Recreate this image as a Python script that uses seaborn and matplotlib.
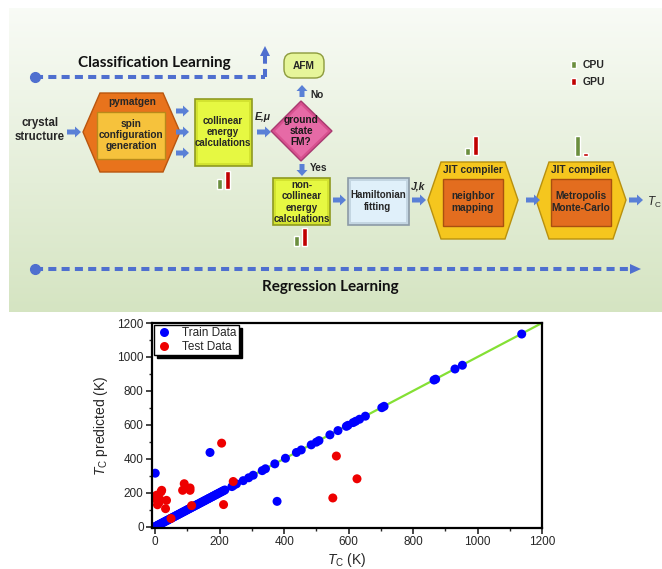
import numpy as np
import pandas as pd
import matplotlib
matplotlib.use("Agg")
import matplotlib.pyplot as plt
import seaborn as sns
from matplotlib.patches import Polygon, Rectangle, FancyArrow, FancyBboxPatch

# ----------------------------------------------------------------------
# data
# ----------------------------------------------------------------------
train_true = [0, 3, 5, 8, 11, 14, 17, 20, 24, 27, 30, 34, 37, 40, 44, 47, 51, 54,
              58, 61, 65, 68, 72, 75, 79, 82, 86, 90, 93, 97, 100, 104, 108, 111,
              115, 119, 122, 126, 130, 133, 137, 141, 144, 148, 152, 155, 159, 163,
              166, 170, 174, 178, 181, 185, 189, 192, 196, 200, 204, 208, 212, 216,
              238, 243, 252, 273, 290, 304, 332, 342, 371, 404, 438, 453, 484, 500,
              508, 542, 567, 593, 598, 614, 622, 634, 652, 703, 710, 865, 870, 930,
              953, 1137, 0, 170, 378]
train_pred = [0, 3, 5, 8, 11, 14, 17, 20, 24, 27, 30, 34, 37, 40, 44, 47, 51, 54,
              58, 61, 65, 68, 72, 75, 79, 82, 86, 90, 93, 97, 100, 104, 108, 111,
              115, 119, 122, 126, 130, 133, 137, 141, 144, 148, 152, 155, 159, 163,
              166, 170, 174, 178, 181, 185, 189, 192, 196, 200, 204, 208, 212, 216,
              236, 243, 252, 271, 288, 303, 330, 341, 370, 403, 437, 452, 482, 498,
              507, 541, 566, 591, 597, 613, 621, 633, 651, 701, 709, 864, 869, 929,
              951, 1135, 315, 437, 149]

test_true = [0, 1, 4, 7, 10, 12, 15, 18, 20, 32, 35, 49, 85, 90, 108, 108, 113,
             206, 212, 242, 551, 562, 626]
test_pred = [165, 175, 185, 129, 140, 145, 159, 205, 214, 106, 155, 48, 214, 253,
             228, 214, 124, 492, 130, 266, 169, 416, 282]

# CPU / GPU timing bars per stage (bar heights, px in the figure)
stages = ["collinear", "noncollinear", "neighbor", "montecarlo"]
cpu_time = [10, 10, 7, 20]
gpu_time = [18, 18, 19, 3]

# ----------------------------------------------------------------------
# figure
# ----------------------------------------------------------------------
sns.set_style("white")
plt.rcParams["font.family"] = ["Liberation Sans", "DejaVu Sans"]
plt.rcParams["mathtext.fontset"] = "custom"
plt.rcParams["mathtext.rm"] = "Liberation Sans"
plt.rcParams["mathtext.it"] = "Liberation Sans:italic"
plt.rcParams["mathtext.bf"] = "Liberation Sans:bold"

fig = plt.figure(figsize=(6.62, 5.69), dpi=100)

# diagram canvas in pixel coordinates
d = fig.add_axes([0, 0, 1, 1], zorder=0)
d.set_xlim(0, 662)
d.set_ylim(569, 0)
d.axis("off")

grad = np.linspace(0, 1, 200)[:, None]
c_top = np.array([0.975, 0.985, 0.965])
c_bot = np.array([0.835, 0.895, 0.760])
img = (c_top + (c_bot - c_top) * grad)[:, None, :].repeat(2, axis=1)
d.imshow(img, extent=(9, 662, 312, 8), aspect="auto", zorder=0)

BLUE = "#5a80d6"
DASH = "#4f6fcf"


def arrow(x, y, dx, dy):
    d.add_patch(FancyArrow(x, y, dx, dy, width=5, head_width=11, head_length=6,
                           length_includes_head=True, color=BLUE, lw=0, zorder=3))


def label(x, y, s, size=7.3, **kw):
    d.text(x, y, s, ha="center", va="center", fontsize=size, fontweight="bold",
           linespacing=1.15, zorder=5, **kw)


def bevel_rect(x, y, w, h, fc, ec, light, z=3):
    # flat box with a lighter inner face to hint at the bevel
    d.add_patch(Rectangle((x, y), w, h, fc=fc, ec=ec, lw=1.2, zorder=z))
    d.add_patch(Rectangle((x + 3, y + 3), w - 6, h - 6, fc=light, ec="none", zorder=z))


# learning tracks
d.plot([35, 265], [77, 77], ls=(0, (2, 1.3)), lw=2.9, color=DASH, zorder=2)
d.plot([35], [77], "o", ms=7, color=DASH, zorder=2)
d.plot([265, 265], [77, 56], ls=(0, (2, 1.3)), lw=2.9, color=DASH, zorder=2)
d.add_patch(FancyArrow(265, 58, 0, -12, width=0.1, head_width=10, head_length=10,
                       length_includes_head=True, color=DASH, lw=0, zorder=2))
d.text(154, 63, "Classification Learning", ha="center", va="center",
       fontsize=11, fontweight="bold", family=["Lato", "DejaVu Sans"],
       color="#111111")

d.plot([35, 630], [269, 269], ls=(0, (2, 1.3)), lw=2.9, color=DASH, zorder=2)
d.plot([35], [269], "o", ms=7, color=DASH, zorder=2)
d.add_patch(FancyArrow(628, 269, 13, 0, width=0.1, head_width=10, head_length=11,
                       length_includes_head=True, color=DASH, lw=0, zorder=2))
d.text(330, 287, "Regression Learning", ha="center", va="center",
       fontsize=11, fontweight="bold", family=["Lato", "DejaVu Sans"],
       color="#111111")

# crystal structure -> pymatgen
label(40, 130, "crystal\nstructure", size=8.3)
arrow(67, 132, 14, 0)
d.add_patch(Polygon([(100, 93), (163, 93), (180, 132), (163, 172), (100, 172), (83, 132)],
                    closed=True, fc="#e8731c", ec="#b9560f", lw=1, zorder=3))
d.add_patch(Rectangle((97, 112), 68, 47, fc="#f6c23c", ec="#b98a1a", lw=1, zorder=4))
label(132, 102, "pymatgen")
label(131, 135, "spin\nconfiguration\ngeneration")

for yy in (111, 132, 153):
    arrow(176, yy, 13, 0)

# collinear box
bevel_rect(195, 99, 57, 67, "#d3e330", "#8f9a20", "#e6f842")
label(223, 132, "collinear\nenergy\ncalculations", size=7)
label(263, 117, "E,μ", size=7.5, style="italic")
arrow(257, 132, 14, 0)

# decision diamond
d.add_patch(Polygon([(301, 101), (332, 131), (301, 161), (271, 131)], closed=True,
                    fc="#d8508f", ec="#a83a70", lw=1, zorder=3))
d.add_patch(Polygon([(301, 105), (328, 131), (301, 157), (275, 131)], closed=True,
                    fc="#e66aa6", ec="none", zorder=3))
label(301, 131, "ground\nstate\nFM?", size=7.3, color="#1a1a1a")
arrow(302, 97, 0, -12)
label(317, 95, "No")
arrow(302, 164, 0, 12)
label(319, 168, "Yes")

d.add_patch(FancyBboxPatch((284, 53), 40, 25, boxstyle="round,pad=0,rounding_size=9",
                           fc="#e6f59a", ec="#8c9a3c", lw=1, zorder=3))
label(304, 66, "AFM")

# non-collinear box
bevel_rect(273, 178, 57, 47, "#d3e330", "#8f9a20", "#e6f842")
label(302, 202, "non-\ncollinear\nenergy\ncalculations", size=7)
arrow(333, 200, 13, 0)

# Hamiltonian box
bevel_rect(348, 178, 61, 47, "#c4d6e2", "#8c9aa6", "#e0f0fa")
label(378, 201, "Hamiltonian\nfitting", size=7)
label(418, 186, "J,k", size=7.5, style="italic")
arrow(412, 200, 14, 0)

# JIT compiler hexagons
for x0, txt in ((428, "neighbor\nmapping"), (536, "Metropolis\nMonte-Carlo")):
    w = 90
    d.add_patch(Polygon([(x0 + 13, 162), (x0 + w - 13, 162), (x0 + w, 200),
                         (x0 + w - 13, 239), (x0 + 13, 239), (x0, 200)], closed=True,
                        fc="#f5c61e", ec="#b8900e", lw=1, zorder=3))
    d.add_patch(Rectangle((x0 + 15, 179), w - 30, 47, fc="#e36d1f", ec="#a9500f",
                          lw=1, zorder=4))
    label(x0 + w / 2, 170, "JIT compiler")
    label(x0 + w / 2, 202, txt)
arrow(526, 200, 14, 0)
arrow(629, 200, 14, 0)
d.text(654, 202, r"$T_\mathrm{C}$", ha="center", va="center", fontsize=8.5,
       fontweight="bold", zorder=5)

# CPU / GPU bars
GREEN_BAR = "#6b8e3e"
RED_BAR = "#c00000"
bar_base = [189, 246, 155, 156]
bar_x = [217, 294, 465, 575]
d.bar([x + 2.5 for x in bar_x], cpu_time, width=5,
      bottom=[b - h for b, h in zip(bar_base, cpu_time)], color=GREEN_BAR, zorder=3)
d.bar([x + 10.5 for x in bar_x], gpu_time, width=5,
      bottom=[b - h for b, h in zip(bar_base, gpu_time)], color=RED_BAR, zorder=3)
d.add_patch(Rectangle((571, 61), 5, 7, fc=GREEN_BAR, zorder=3))
d.add_patch(Rectangle((571, 78), 5, 7, fc=RED_BAR, zorder=3))
d.text(583, 65, "CPU", ha="left", va="center", fontsize=7.5, fontweight="bold")
d.text(583, 82, "GPU", ha="left", va="center", fontsize=7.5, fontweight="bold")

# ----------------------------------------------------------------------
# parity plot
# ----------------------------------------------------------------------
df = pd.DataFrame({
    "true": train_true + test_true,
    "pred": train_pred + test_pred,
    "set": ["Train Data"] * len(train_true) + ["Test Data"] * len(test_true),
})

ax = fig.add_axes([152 / 662, 1 - 528 / 569, 390 / 662, 205 / 569], zorder=2)
ax.set_facecolor("white")
sns.lineplot(x=[0, 1200], y=[0, 1200], color="#84e034", lw=1.6, ax=ax, zorder=1)
sns.scatterplot(data=df, x="true", y="pred", hue="set",
                palette={"Train Data": "#0000ff", "Test Data": "#ee0000"},
                s=42, linewidth=0, ax=ax, zorder=2)

ax.set_xlim(-10, 1200)
ax.set_ylim(-8, 1200)
ax.set_xticks(range(0, 1201, 200))
ax.set_yticks(range(0, 1201, 200))
ax.set_xticks(range(100, 1200, 200), minor=True)
ax.set_yticks(range(100, 1200, 200), minor=True)
ax.tick_params(which="major", direction="out", length=4, width=1.2, labelsize=8.5,
               bottom=True, left=True, pad=2)
ax.tick_params(which="minor", direction="out", length=2.5, width=1.0, bottom=True, left=True)
for s in ax.spines.values():
    s.set_color("black")
    s.set_linewidth(1.6)
ax.set_xlabel(r"$T_\mathrm{C}$ (K)", fontsize=10, labelpad=2)
ax.set_ylabel(r"$T_\mathrm{C}$ predicted (K)", fontsize=10, labelpad=5)

leg = ax.legend(loc="upper left", fontsize=8.5, frameon=True, fancybox=False,
                shadow={"color": "black", "alpha": 1}, edgecolor="black",
                borderpad=0.2, handletextpad=0.8, labelspacing=0.15,
                handlelength=1.4, borderaxespad=0.15, markerscale=1.0)
leg.get_frame().set_linewidth(1.0)

fig.savefig("out.png", dpi=100)
